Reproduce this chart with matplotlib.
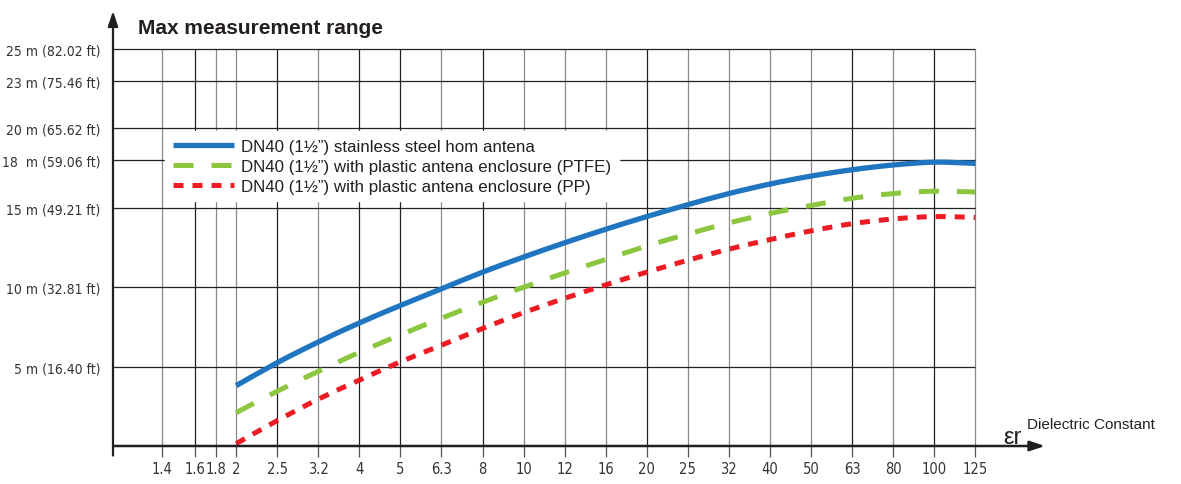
import numpy as np
import matplotlib
matplotlib.use("Agg")
import matplotlib.pyplot as plt
from matplotlib.path import Path
from matplotlib.patches import PathPatch
from matplotlib.lines import Line2D

# ---------------- data ----------------
x_ticks = [1.4, 1.6, 1.8, 2, 2.5, 3.2, 4, 5, 6.3, 8, 10, 12, 16, 20, 25, 32, 40, 50, 63, 80, 100, 125]
x_tick_labels = ["1.4", "1.6", "1.8", "2", "2.5", "3.2", "4", "5", "6.3", "8", "10", "12", "16",
                 "20", "25", "32", "40", "50", "63", "80", "100", "125"]
y_ticks = [5, 10, 15, 18, 20, 23, 25]
y_tick_labels = ["5 m (16.40 ft)", "10 m (32.81 ft)", "15 m (49.21 ft)", "18  m (59.06 ft)",
                 "20 m (65.62 ft)", "23 m (75.46 ft)", "25 m (82.02 ft)"]

er = [2, 2.5, 3.2, 4, 5, 6.3, 8, 10, 12, 16, 20, 25, 32, 40, 50, 63, 80, 100, 125]
steel = [3.8, 5.25, 6.55, 7.75, 8.85, 9.9, 10.95, 11.9, 12.8, 13.65, 14.45, 15.2, 15.9, 16.5, 17.0, 17.4, 17.7, 17.88, 17.8]
ptfe = [2.1, 3.45, 4.7, 5.9, 7.0, 8.05, 9.05, 10.0, 10.9, 11.75, 12.6, 13.35, 14.05, 14.65, 15.15, 15.6, 15.9, 16.05, 16.0]
pp = [0.15, 1.6, 2.95, 4.15, 5.3, 6.35, 7.4, 8.4, 9.3, 10.15, 10.95, 11.7, 12.4, 13.0, 13.55, 14.0, 14.3, 14.45, 14.4]

labels = ["DN40 (1\u00bd\u201d) stainless steel hom antena",
          "DN40 (1\u00bd\u201d) with plastic antena enclosure (PTFE)",
          "DN40 (1\u00bd\u201d) with plastic antena enclosure (PP)"]

# ---------------- scale (nominal E-series spacing) ----------------
_anchor_vals = np.array([1, 1.4, 1.6, 1.8, 2, 2.5, 3.2, 4, 5, 6.3, 8, 10, 12, 16, 20, 25, 32, 40,
                         50, 63, 80, 100, 125, 160, 200])
_anchor_pos = np.array([-3, -1.8, -1, -0.5] + list(range(0, 21)), dtype=float)
_la = np.log10(_anchor_vals)


def fwd(v):
    v = np.asarray(v, dtype=float)
    return np.interp(np.log10(np.clip(v, 1e-6, None)), _la, _anchor_pos)


def inv(p):
    p = np.asarray(p, dtype=float)
    return 10 ** np.interp(p, _anchor_pos, _la)


def smooth_path(xv, yv):
    """Catmull-Rom curve through the data points (computed in axis position space)."""
    p = fwd(xv)
    y = np.asarray(yv, dtype=float)
    P = np.column_stack([p, y])
    n = len(P)
    verts = [P[0]]
    codes = [Path.MOVETO]
    for i in range(n - 1):
        p0 = P[i - 1] if i > 0 else P[i]
        p1, p2 = P[i], P[i + 1]
        p3 = P[i + 2] if i + 2 < n else P[i + 1]
        c1 = p1 + (p2 - p0) / 6.0
        c2 = p2 - (p3 - p1) / 6.0
        verts += [c1, c2, p2]
        codes += [Path.CURVE4] * 3
    verts = np.array(verts)
    verts[:, 0] = inv(verts[:, 0])
    return Path(verts, codes)


W, H = 1181, 485
fig = plt.figure(figsize=(W / 100, H / 100), dpi=100)
ax = fig.add_axes([113 / W, (H - 447) / H, (1045 - 113) / W, (447 - 12) / H])
ax.set_xscale("function", functions=(fwd, inv))
ax.set_xlim(1, float(inv(19.7)))
ax.set_ylim(0, 27.4)
for s in ax.spines.values():
    s.set_visible(False)

tickfont = dict(family="DejaVu Sans", stretch="condensed")
sans = ["Liberation Sans", "DejaVu Sans"]

# grid
grid_cols = ["#8a8a8a", "#222222", "#8a8a8a", "#8a8a8a", "#222222", "#8a8a8a", "#222222", "#222222",
             "#8a8a8a", "#222222", "#8a8a8a", "#8a8a8a", "#8a8a8a", "#222222", "#8a8a8a", "#8a8a8a",
             "#8a8a8a", "#8a8a8a", "#222222", "#8a8a8a", "#222222", "#8a8a8a"]
for xv, c in zip(x_ticks, grid_cols):
    ax.vlines(xv, 0, 25, color=c, lw=0.9, zorder=1)
ax.hlines(y_ticks, 1, 125, color="#222222", lw=0.9, zorder=1)

# ticks
ax.set_xticks(x_ticks)
ax.xaxis.set_minor_locator(matplotlib.ticker.NullLocator())
ax.set_xticklabels(x_tick_labels, fontsize=10.5, color="#333333", **tickfont)
ax.tick_params(axis="x", direction="out", length=8, width=0.9, color="#555555", pad=3)
ax.set_yticks(y_ticks)
ax.set_yticklabels(y_tick_labels, fontsize=10, color="#333333", **tickfont)
ax.tick_params(axis="y", length=0, pad=9)

# axes with arrows
ax.annotate("", xy=(1, 27.4), xytext=(1, -0.6), xycoords="data",
            arrowprops=dict(arrowstyle="-|>,head_length=0.9,head_width=0.3", lw=1.6, color="#231f20",
                            shrinkA=0, shrinkB=0), annotation_clip=False, zorder=5)
ax.annotate("", xy=(float(inv(19.7)), 0), xytext=(1, 0), xycoords="data",
            arrowprops=dict(arrowstyle="-|>,head_length=0.9,head_width=0.3", lw=1.8, color="#231f20",
                            shrinkA=0, shrinkB=0), annotation_clip=False, zorder=5)

# series
styles = [dict(color="#1f75bf", lw=3.8, ls="-"),
          dict(color="#8cc63f", lw=3.6, ls=(0, (4.0, 3.6))),
          dict(color="#ed1c24", lw=3.6, ls=(0, (2.0, 1.8)))]
handles = []
for yv, st, lab in zip([steel, ptfe, pp], styles, labels):
    patch = PathPatch(smooth_path(er, yv), facecolor="none", edgecolor=st["color"], lw=st["lw"],
                      linestyle=st["ls"], capstyle="butt", zorder=4)
    ax.add_patch(patch)
    handles.append(Line2D([], [], color=st["color"], lw=st["lw"], linestyle=st["ls"],
                          solid_capstyle="butt", dash_capstyle="butt"))

leg = ax.legend(handles, labels, loc="upper left", bbox_to_anchor=(165 / W, 1 - 132 / H),
                bbox_transform=fig.transFigure, borderaxespad=0, frameon=True, fancybox=False,
                framealpha=1, edgecolor="white", facecolor="white", handlelength=3.6,
                handletextpad=0.45, labelspacing=0.3, borderpad=0.45,
                prop={"family": sans, "size": 12.2})
leg.set_zorder(3)
for t in leg.get_texts():
    t.set_color("#231f20")

fig.text(138 / W, 1 - 28 / H, "Max measurement range", fontfamily=sans, fontweight="bold",
         fontsize=15, color="#231f20", va="center", ha="left")
fig.text(1003 / W, 1 - 438 / H, "\u03b5r", fontfamily=sans, fontsize=17, color="#231f20",
         va="center", ha="left")
fig.text(1027 / W, 1 - 425 / H, "Dielectric Constant", fontfamily=sans, fontsize=11,
         color="#231f20", va="center", ha="left")

fig.savefig("out.png", dpi=100)
